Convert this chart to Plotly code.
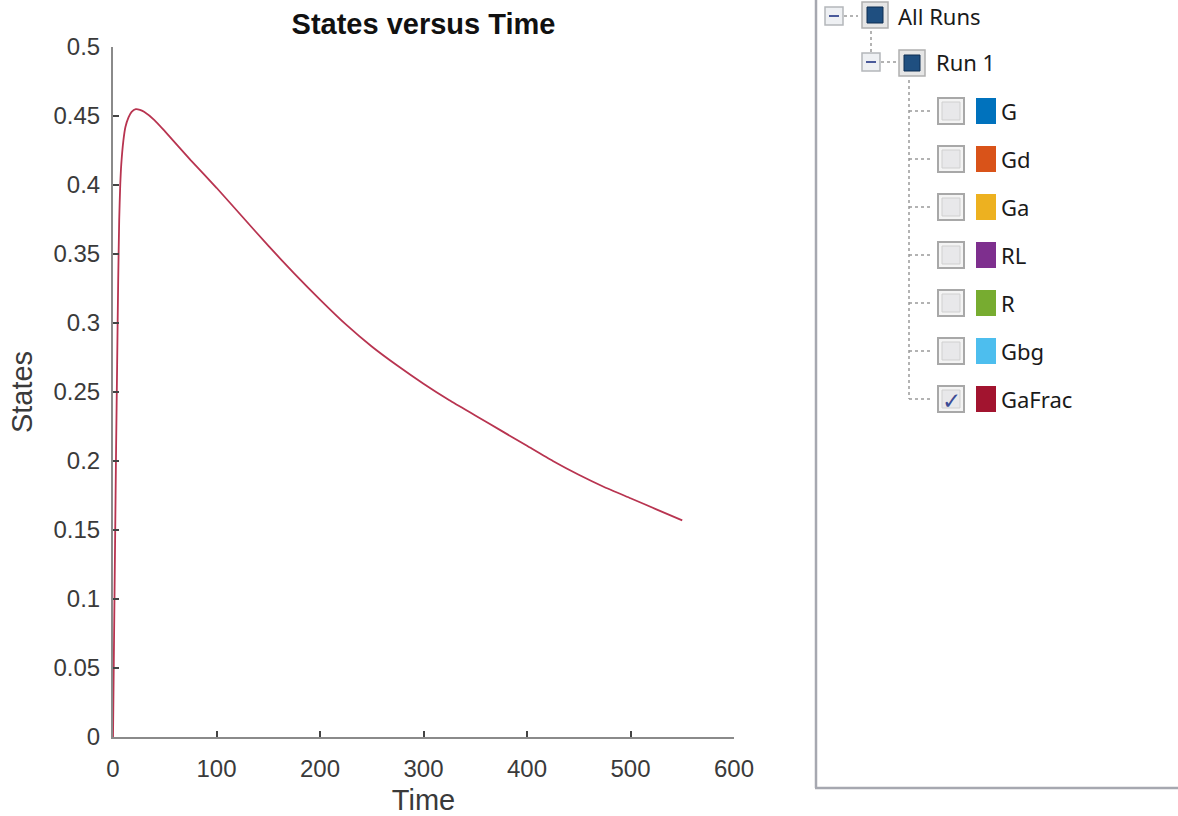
import plotly.graph_objects as go

# ---------------- data ----------------
time = [0, 1, 2, 3, 4, 5, 6, 7, 8, 10, 12, 15, 18, 22, 26, 30, 40, 50, 75, 100,
        125, 150, 175, 200, 225, 250, 275, 300, 325, 350, 375, 400, 425, 450,
        475, 500, 525, 550]
gafrac = [0, 0.07, 0.14, 0.21, 0.27, 0.33, 0.375, 0.40, 0.415, 0.432, 0.442,
          0.449, 0.453, 0.455, 0.4545, 0.453, 0.447, 0.439, 0.418, 0.398,
          0.377, 0.356, 0.336, 0.317, 0.299, 0.283, 0.269, 0.256, 0.244,
          0.233, 0.222, 0.211, 0.200, 0.190, 0.181, 0.173, 0.165, 0.157]

x_ticks = [0, 100, 200, 300, 400, 500, 600]
x_ticktext = ["0", "100", "200", "300", "400", "500", "600"]
y_ticks = [0, 0.05, 0.1, 0.15, 0.2, 0.25, 0.3, 0.35, 0.4, 0.45, 0.5]
y_ticktext = ["0", "0.05", "0.1", "0.15", "0.2", "0.25", "0.3", "0.35", "0.4", "0.45", "0.5"]

species = ["G", "Gd", "Ga", "RL", "R", "Gbg", "GaFrac"]
species_checked = [False, False, False, False, False, False, True]
run_names = ["All Runs", "Run 1"]

# ---------------- styles ----------------
species_colors = ["#0072BD", "#D95319", "#EDB120", "#7E2F8E", "#77AC30", "#4DBEEE", "#A2142F"]
W, H = 1178, 816
ML, MR, MT, MB = 113, 444, 47, 79
PW, PH = W - ML - MR, H - MT - MB
AX_FONT = "Liberation Sans, Arial, sans-serif"
TREE_FONT = "Noto Sans, Open Sans, sans-serif"


def px(x):
    return (x - ML) / PW


def py(y):
    return (H - MB - y) / PH


fig = go.Figure()
fig.add_trace(go.Scatter(x=time, y=gafrac, mode="lines", name="GaFrac",
                         line=dict(color="#B83450", width=1.8, shape="spline", smoothing=0.5),
                         showlegend=False, hoverinfo="x+y"))

axis_common = dict(
    showgrid=False, zeroline=False, showline=True, linecolor="#8a8a8a",
    linewidth=2, ticks="inside", ticklen=6, tickwidth=1.5, tickcolor="#444",
    tickfont=dict(family=AX_FONT, size=24, color="#3a3a3a"),
    mirror=False, fixedrange=True, automargin=False,
)

fig.update_layout(
    width=W, height=H,
    margin=dict(l=ML, r=MR, t=MT, b=MB, pad=0, autoexpand=False),
    paper_bgcolor="white", plot_bgcolor="white",
    title=dict(text="<b>States versus Time</b>", x=(ML + PW / 2) / W, xanchor="center",
               y=1 - 24 / H, yanchor="middle",
               font=dict(family=AX_FONT, size=29, color="#111")),
    xaxis=dict(range=[0, 600], tickvals=x_ticks, ticktext=x_ticktext,
               ticklabelstandoff=9,
               title=dict(text="Time", standoff=12,
                          font=dict(family=AX_FONT, size=29, color="#3a3a3a")),
               **axis_common),
    yaxis=dict(range=[0, 0.5], tickvals=y_ticks, ticktext=y_ticktext,
               ticklabelstandoff=6,
               title=dict(text="States", standoff=12,
                          font=dict(family=AX_FONT, size=29, color="#3a3a3a")),
               **axis_common),
)

shapes = []
annotations = []


def rect(x0, y0, x1, y1, fill, line="rgba(0,0,0,0)", lw=1):
    shapes.append(dict(type="rect", xref="paper", yref="paper",
                       x0=px(x0), x1=px(x1), y0=py(y0), y1=py(y1),
                       fillcolor=fill, line=dict(color=line, width=lw), layer="above"))


def line(x0, y0, x1, y1, color, lw=1, dash="solid"):
    shapes.append(dict(type="line", xref="paper", yref="paper",
                       x0=px(x0), x1=px(x1), y0=py(y0), y1=py(y1),
                       line=dict(color=color, width=lw, dash=dash), layer="above"))


def text(x, y, s, size=22, color="#1a1a1a", anchor="left", family=TREE_FONT):
    annotations.append(dict(xref="paper", yref="paper", x=px(x), y=py(y), text=s,
                            showarrow=False, xanchor=anchor, yanchor="middle",
                            font=dict(family=family, size=size, color=color)))


# panel border
line(816, -5, 816, 788, "#a6a8b0", lw=2.5)
line(815, 788, 1185, 788, "#a6a8b0", lw=2.5)

DOT = "#9a9a9a"


def minus_box(x0, yc):
    rect(x0, yc - 9, x0 + 18, yc + 9, "#eef0f3", line="#b4b6ba", lw=1.5)
    line(x0 + 4, yc, x0 + 14, yc, "#4a5a9a", lw=2)


def run_icon(x0, yc):
    rect(x0, yc - 13, x0 + 26, yc + 13, "#e6e6e6", line="#b0b0b0", lw=1.5)
    rect(x0 + 5, yc - 8, x0 + 21, yc + 8, "#1f4f80", line="#0f2f52", lw=1)


# All Runs row
yA = 16
minus_box(825, yA)
line(844, yA, 858, yA, DOT, lw=1.5, dash="dot")
run_icon(862, yA - 1)
text(896, yA, run_names[0])
line(871, 31, 871, 52, DOT, lw=1.5, dash="dot")

# Run 1 row
yR = 62
minus_box(862, yR)
line(881, yR, 896, yR, DOT, lw=1.5, dash="dot")
run_icon(899, yR + 1)
text(934, yR, run_names[1])

# species rows
row_y = [111 + 48 * i for i in range(len(species))]
line(909, 80, 909, row_y[-1], DOT, lw=1.5, dash="dot")
for name, col, chk, yc in zip(species, species_colors, species_checked, row_y):
    line(909, yc, 931, yc, DOT, lw=1.5, dash="dot")
    rect(938, yc - 13, 964, yc + 13, "#f4f4f4", line="#a8a8a8", lw=2)
    rect(942, yc - 9, 960, yc + 9, "#e8e8ea", line="#d0d0d0", lw=1)
    rect(976, yc - 13, 996, yc + 13, col)
    text(999, yc, name)
    if chk:
        text(951, yc + 1, "✓", size=23, color="#3c4c96", anchor="center")

fig.update_layout(shapes=shapes, annotations=annotations)

fig.write_html("out.html", config={"displayModeBar": False},
               post_script="document.body.style.margin='0';")
